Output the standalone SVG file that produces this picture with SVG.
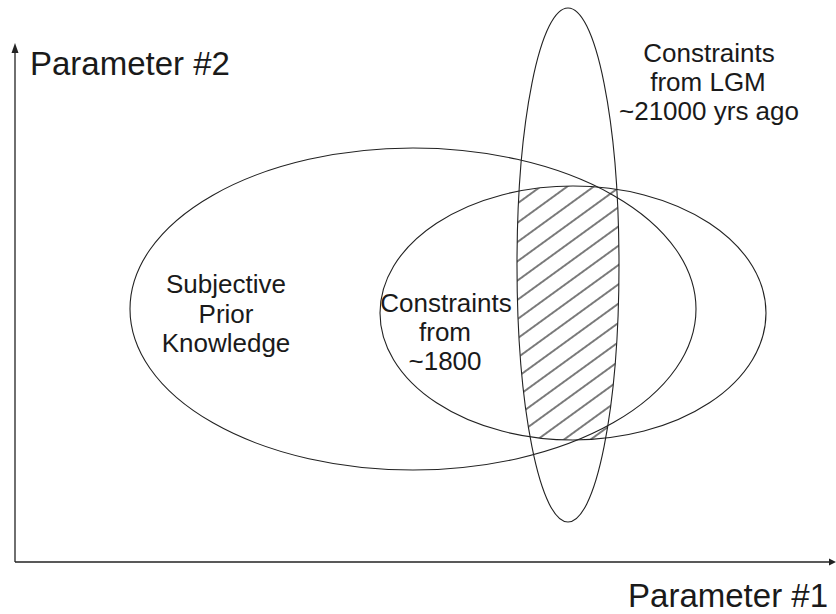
<svg xmlns="http://www.w3.org/2000/svg" width="836" height="614" viewBox="0 0 836 614">
<style>
.ell{fill:none;stroke:#222;stroke-width:1.1}
.lbl{font-family:"Liberation Sans",Arial,sans-serif;font-size:26px;fill:#1a1a1a;text-anchor:middle}
.axl{font-family:"Liberation Sans",Arial,sans-serif;font-size:33px;fill:#1a1a1a}
.ax{stroke:#222;stroke-width:1.3;fill:none}
</style>
<defs>
<pattern id="hatch" patternUnits="userSpaceOnUse" width="20" height="15.6" patternTransform="translate(520 298) rotate(-36) translate(0 -7.8)">
<line x1="-1" y1="7.8" x2="21" y2="7.8" stroke="#111" stroke-width="1.1"/>
</pattern>
<clipPath id="vclip"><ellipse cx="568" cy="265" rx="51" ry="257"/></clipPath>
</defs>
<rect width="836" height="614" fill="#fff"/>
<g id="connectors">
<line class="ax" x1="15" y1="562" x2="15" y2="50"/>
<polygon points="15,43 11.5,53 18.5,53" fill="#222"/>
<line class="ax" x1="15" y1="562" x2="830" y2="562"/>
<polygon points="836,562 829,558.5 829,565.5" fill="#222"/>
</g>
<g id="hatched-overlap">
<ellipse cx="573" cy="313" rx="193" ry="127" fill="url(#hatch)" stroke="none" clip-path="url(#vclip)"/>
</g>
<g id="prior">
<ellipse class="ell" cx="413" cy="309" rx="283" ry="161"/>
<text class="lbl" x="226" y="293">Subjective</text>
<text class="lbl" x="226" y="323">Prior</text>
<text class="lbl" x="226" y="352">Knowledge</text>
</g>
<g id="c1800">
<ellipse class="ell" cx="573" cy="313" rx="193" ry="127"/>
<text class="lbl" x="446" y="312">Constraints</text>
<text class="lbl" x="445" y="341">from</text>
<text class="lbl" x="445" y="370">~1800</text>
</g>
<g id="lgm">
<ellipse class="ell" cx="568" cy="265" rx="51" ry="257"/>
<text class="lbl" x="709" y="62">Constraints</text>
<text class="lbl" x="708" y="91">from LGM</text>
<text class="lbl" x="709" y="120">~21000 yrs ago</text>
</g>
<g id="axis-labels">
<text class="axl" x="30" y="75">Parameter #2</text>
<text class="axl" x="828" y="607" text-anchor="end">Parameter #1</text>
</g>
</svg>
